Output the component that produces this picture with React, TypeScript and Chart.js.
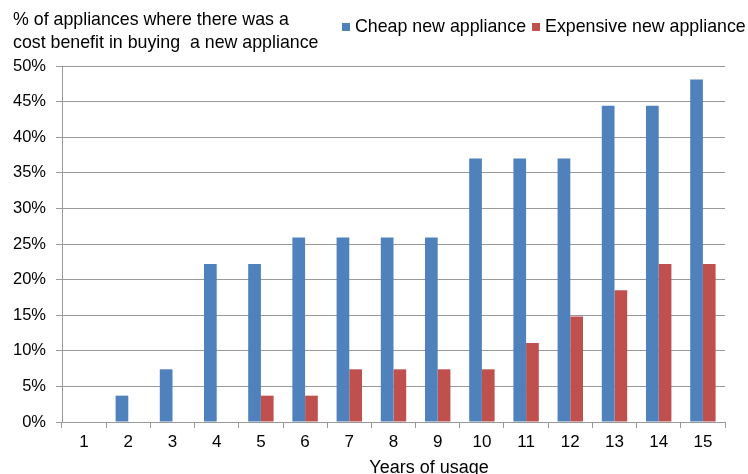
import React, { useEffect, useRef } from "react";
import { Chart, registerables } from "chart.js";

Chart.register(...registerables);

const categories = ["1", "2", "3", "4", "5", "6", "7", "8", "9", "10", "11", "12", "13", "14", "15"];
const cheapValues = [0, 3.7, 7.4, 22.2, 22.2, 25.9, 25.9, 25.9, 25.9, 37.0, 37.0, 37.0, 44.4, 44.4, 48.1];
const expensiveValues = [0, 0, 0, 0, 3.7, 3.7, 7.4, 7.4, 7.4, 7.4, 11.1, 14.8, 18.5, 22.2, 22.2];
const seriesNames = ["Cheap new appliance", "Expensive new appliance"];
const titleLines = ["% of appliances where there was a", "cost benefit in buying  a new appliance"];
const xAxisTitle = "Years of usage";

const FONT = "'Liberation Sans', Arial, sans-serif";
const BLUE = "#4F81BD";
const RED = "#C0504D";

const headerPlugin = {
  id: "header",
  afterDraw(chart: any) {
    const ctx = chart.ctx;
    ctx.save();
    ctx.fillStyle = "#000";
    ctx.font = `17.8px ${FONT}`;
    ctx.textBaseline = "middle";
    ctx.textAlign = "left";
    ctx.fillText(titleLines[0], 13, 20);
    ctx.fillText(titleLines[1], 13, 43);
    // legend
    const ds = chart.data.datasets;
    let x = 342;
    ds.forEach((d: any) => {
      ctx.fillStyle = d.backgroundColor;
      ctx.fillRect(x, 23, 8, 8);
      ctx.fillStyle = "#000";
      ctx.fillText(d.label, x + 13, 27);
      x += 13 + ctx.measureText(d.label).width + 6;
    });
    // x axis title
    ctx.textAlign = "center";
    ctx.font = `18px ${FONT}`;
    ctx.fillText(xAxisTitle, 429, 468);
    ctx.restore();
  },
};

export default function App() {
  const ref = useRef<HTMLCanvasElement>(null);
  useEffect(() => {
    const chart = new Chart(ref.current as HTMLCanvasElement, {
      type: "bar",
      data: {
        labels: categories,
        datasets: [
          { label: seriesNames[0], data: cheapValues, backgroundColor: BLUE, borderWidth: 0 },
          { label: seriesNames[1], data: expensiveValues, backgroundColor: RED, borderWidth: 0 },
        ],
      },
      options: {
        animation: false,
        responsive: false,
        devicePixelRatio: 1,
        layout: { padding: { top: 66, right: 23, left: 0, bottom: 0 } },
        datasets: { bar: { categoryPercentage: 0.575, barPercentage: 1 } },
        plugins: {
          legend: { display: false },
          tooltip: { enabled: false },
        },
        scales: {
          x: {
            grid: {
              offset: true,
              drawOnChartArea: false,
              drawTicks: true,
              tickLength: 6,
              color: "#999",
            },
            border: { color: "#999" },
            ticks: { color: "#000", font: { family: FONT, size: 17 }, padding: 4, maxRotation: 0 },
            afterFit(scale: any) {
              scale.height = 52;
            },
          },
          y: {
            min: 0,
            max: 50,
            ticks: {
              stepSize: 5,
              color: "#000",
              font: { family: FONT, size: 16.5 },
              padding: 10,
              callback: (v: any) => `${v}%`,
            },
            grid: { color: "#999", tickLength: 6 },
            border: { color: "#999" },
            afterFit(scale: any) {
              scale.width = 62;
            },
          },
        },
      },
      plugins: [headerPlugin],
    });
    return () => chart.destroy();
  }, []);
  return (
    <div style={{ position: "fixed", left: 0, top: 0, width: 748, height: 474, overflow: "hidden", background: "#fff" }}>
      <canvas ref={ref} width={748} height={474} style={{ width: 748, height: 474 }} />
    </div>
  );
}
